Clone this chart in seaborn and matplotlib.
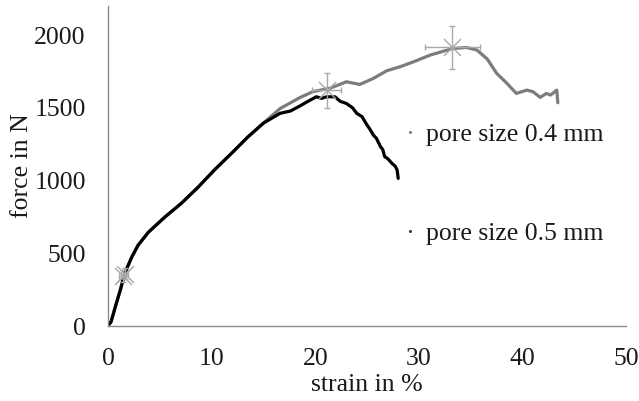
import numpy as np
import pandas as pd
import matplotlib
matplotlib.use("Agg")
import matplotlib.pyplot as plt
import seaborn as sns
from matplotlib.lines import Line2D

# ---- data ----
shared_strain = [0, 0.3, 0.7, 1.2, 1.6, 2.3, 2.9, 3.9, 5.5, 7.1, 8.7, 10.3, 12.1, 13.5, 15.0]
shared_force = [0, 30, 130, 250, 360, 475, 555, 645, 750, 845, 955, 1075, 1200, 1300, 1395]

strain_04 = [16.6, 18.5, 19.8, 21.4, 23.0, 24.3, 25.6, 26.9, 28.2, 29.5, 31.1, 32.4,
             33.3, 34.6, 35.6, 36.6, 37.5, 38.5, 39.4, 40.4, 41.0, 41.7, 42.3, 42.7,
             43.3, 43.4]
force_04 = [1495, 1570, 1612, 1634, 1679, 1661, 1702, 1755, 1783, 1817, 1863, 1890,
            1908, 1915, 1897, 1835, 1737, 1668, 1599, 1622, 1611, 1572, 1599, 1588,
            1622, 1535]

strain_05 = [16.6, 17.6, 18.5, 19.2, 20.1, 20.6, 21.1, 21.9, 22.4, 23.0, 23.6, 24.0,
             24.5, 25.0, 25.3, 25.6, 25.9, 26.3, 26.5, 26.7, 27.0, 27.4, 27.7, 27.9,
             28.0]
force_05 = [1462, 1478, 1512, 1541, 1576, 1565, 1576, 1576, 1545, 1530, 1500, 1462,
            1440, 1381, 1350, 1313, 1290, 1232, 1215, 1164, 1150, 1118, 1100, 1072,
            1015]

labels = ["pore size 0.4 mm", "pore size 0.5 mm"]

# mean points with standard deviation (stars)
star_strain = [1.4, 1.6, 21.1, 33.2]
star_force = [345, 360, 1620, 1915]
star_xerr = [0.3, 0.3, 1.4, 2.65]
star_yerr = [40, 40, 120, 145]

# ---- build table ----
rows = []
for x, y in zip(shared_strain + strain_04, shared_force + force_04):
    rows.append((x, y, labels[0]))
for x, y in zip(shared_strain + strain_05, shared_force + force_05):
    rows.append((x, y, labels[1]))
df = pd.DataFrame(rows, columns=["strain", "force", "series"])

sns.set_style("white")
plt.rcParams["font.family"] = ["Liberation Serif", "DejaVu Serif"]

FS = 18.5
fig = plt.figure(figsize=(6.39, 4.01), dpi=100)
ax = fig.add_axes([0.169, 0.187, 0.811, 0.798])

palette = {labels[0]: "#7c7c7c", labels[1]: "#000000"}
sns.lineplot(data=df, x="strain", y="force", hue="series", units="series",
             estimator=None, sort=False, palette=palette, linewidth=2.3,
             ax=ax, legend=False)

ax.errorbar(star_strain, star_force, xerr=star_xerr, yerr=star_yerr,
            fmt="none", ecolor="#a8a8a8", elinewidth=1.0, capsize=2.5, capthick=1.0,
            zorder=3)
ax.scatter(star_strain, star_force, marker="x", s=150, color="#a8a8a8",
           linewidths=1.0, zorder=3)

ax.set_xlim(0, 50)
ax.set_ylim(0, 2200)
ax.set_xticks([0, 10, 20, 30, 40, 50])
ax.set_yticks([0, 500, 1000, 1500, 2000])

for s in ["top", "right"]:
    ax.spines[s].set_visible(False)
for s in ["left", "bottom"]:
    ax.spines[s].set_color("#8c8c8c")
    ax.spines[s].set_linewidth(1.0)

ax.tick_params(axis="both", direction="out", length=5, width=1.0, color="#8c8c8c",
               labelsize=FS, labelcolor="#1a1a1a")
ax.tick_params(axis="y", pad=11)
ax.tick_params(axis="x", pad=11)

ax.set_xlabel("strain in %", fontsize=FS, color="#1a1a1a", labelpad=3)
ax.set_ylabel("force in N", fontsize=FS, color="#1a1a1a", labelpad=1)

handles = [Line2D([], [], linestyle="none", marker=".", markersize=2.5, color="#808080"),
           Line2D([], [], linestyle="none", marker=".", markersize=2.5, color="#404040")]
ax.legend(handles, labels, loc="center left", bbox_to_anchor=(0.544, 0.443),
          frameon=False, fontsize=FS, labelspacing=2.95, handlelength=0.6,
          handletextpad=0.3, borderpad=0, labelcolor="#1a1a1a")

fig.savefig("out.png", dpi=100)
